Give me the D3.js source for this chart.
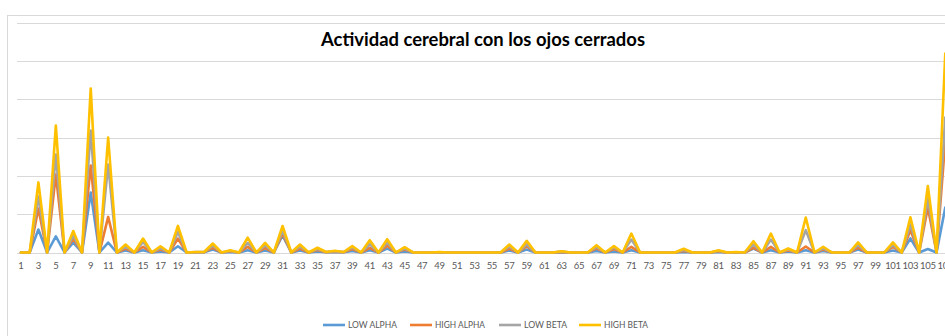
<!DOCTYPE html>
<html>
<head>
<meta charset="utf-8">
<script src="https://cdn.jsdelivr.net/npm/d3@7"></script>
<style>
  html, body { margin: 0; padding: 0; background: #fff; overflow: hidden; }
  svg { display: block; font-family: Lato, "Open Sans", sans-serif; }
</style>
</head>
<body>
<svg id="chart" width="945" height="336"></svg>
<script>
// Sample index 1..107
const categories = d3.range(1, 108);

// EEG band power per sample (plotted stacked)
const lowAlpha = {3:30000,5:20900,7:13000,9:78300,11:13000,13:2600,15:3000,17:1300,19:8200,21:260,22:260,23:3900,25:650,27:3000,29:2600,31:22200,33:2600,35:1300,36:260,37:520,38:260,39:2000,41:3000,43:5200,45:1300,49:130,57:2600,59:3900,63:400,67:2000,69:1300,71:3000,77:650,81:650,83:130,85:5200,87:3000,89:1300,91:3000,93:2000,97:3900,101:2600,103:18300,105:4600,107:58700};
const highAlpha = {3:27400,5:80900,7:5200,9:35200,11:33400,13:2600,15:4400,17:2600,19:10000,21:130,22:130,23:2600,25:650,27:4400,29:3300,31:2600,33:2600,35:2000,36:130,37:520,38:130,39:2600,41:3100,43:3500,45:2600,49:130,57:2600,59:4300,63:400,67:3300,69:3300,71:4400,77:1300,81:650,83:130,85:1300,87:4400,89:1300,91:4800,93:2000,97:2600,101:4600,103:10800,105:54100,107:87400};
const lowBeta = {3:15700,5:26100,7:3900,9:45700,11:68400,13:2600,15:6500,17:2000,19:8700,21:130,22:130,23:2600,25:650,27:5200,29:3300,31:3900,33:2600,35:1300,36:130,37:520,38:130,39:2000,41:4700,43:4300,45:1300,49:130,57:2600,59:2600,63:520,67:2000,69:2000,71:9500,77:1300,81:650,83:130,85:3900,87:9500,89:1300,91:21300,93:1300,97:3300,101:2600,103:7400,105:11700,107:30000};
const highBeta = {3:18300,5:37800,7:5900,9:54800,11:35200,13:2600,15:4300,17:2300,19:7800,21:130,22:130,23:2600,25:1000,27:6900,29:3500,31:5900,33:2600,35:1600,36:130,37:650,38:130,39:1700,41:5200,43:4300,45:1700,49:260,57:2600,59:4400,63:400,67:2300,69:1700,71:7800,77:1600,81:1000,83:260,85:4300,87:7800,89:1300,91:16600,93:2200,97:3300,101:3300,103:9500,105:16300,107:83500};

const seriesNames = ["LOW ALPHA", "HIGH ALPHA", "LOW BETA", "HIGH BETA"];
const seriesColors = ["#5B9BD5", "#ED7D31", "#A5A5A5", "#FFC000"];
const seriesData = [lowAlpha, highAlpha, lowBeta, highBeta];

const yTicks = [0, 50000, 100000, 150000, 200000, 250000, 300000];
const titleText = "Actividad cerebral con los ojos cerrados";

// Table of rows for d3.stack
const rows = categories.map(c => {
  const r = { cat: c };
  seriesNames.forEach((n, i) => { r[n] = seriesData[i][c] || 0; });
  return r;
});
const stacked = d3.stack().keys(seriesNames)(rows);

const svg = d3.select("#chart");
const W = 945, H = 336;

// chart frame
svg.append("rect")
  .attr("x", 7.5).attr("y", 15.5)
  .attr("width", 1000).attr("height", 400)
  .attr("fill", "#fff").attr("stroke", "#d9d9d9").attr("stroke-width", 1);

const step = 8.72;
const x = d3.scaleBand().domain(categories).range([16.6, 16.6 + step * categories.length]);
const cx = c => x(c) + x.bandwidth() / 2;
const y = d3.scaleLinear().domain([0, 300000]).range([252.5, 22.5]);

// gridlines
svg.append("g").selectAll("line").data(yTicks).join("line")
  .attr("x1", 17).attr("x2", W)
  .attr("y1", d => Math.round(y(d)) + 0.5).attr("y2", d => Math.round(y(d)) + 0.5)
  .attr("stroke", "#d9d9d9").attr("stroke-width", 1);

// category axis labels (every other sample)
const xAxis = d3.axisBottom(x)
  .tickValues(categories.filter(c => c % 2 === 1))
  .tickSize(0).tickPadding(0);
const gx = svg.append("g").attr("transform", `translate(0, ${y(0)})`).call(xAxis);
gx.select(".domain").remove();
gx.selectAll("text")
  .attr("y", 10).attr("dy", "0.71em")
  .attr("fill", "#595959").attr("font-size", "9.5px")
  .attr("font-family", "Lato, 'Open Sans', sans-serif")
  .attr("letter-spacing", "-0.3px");

// lines
const line = d3.line()
  .x(d => cx(d.data.cat))
  .y(d => y(d[1]));

svg.append("g").selectAll("path").data(stacked).join("path")
  .attr("d", line)
  .attr("fill", "none")
  .attr("stroke", (d, i) => seriesColors[i])
  .attr("stroke-width", 2.6)
  .attr("stroke-linejoin", "round")
  .attr("stroke-linecap", "round");

// title
svg.append("text")
  .attr("x", 483).attr("y", 46)
  .attr("text-anchor", "middle")
  .attr("font-size", "18px").attr("font-weight", "bold")
  .attr("fill", "#000")
  .attr("textLength", 324).attr("lengthAdjust", "spacingAndGlyphs")
  .text(titleText);

// legend
const legendX = [323, 410, 499, 579];
const legendW = [49, 50, 43, 44];
const lg = svg.append("g");
seriesNames.forEach((n, i) => {
  lg.append("line")
    .attr("x1", legendX[i]).attr("x2", legendX[i] + 22)
    .attr("y1", 325).attr("y2", 325)
    .attr("stroke", seriesColors[i]).attr("stroke-width", 2.6);
  lg.append("text")
    .attr("x", legendX[i] + 25).attr("y", 325).attr("dy", "0.35em")
    .attr("font-size", "9.5px").attr("fill", "#595959")
    .attr("textLength", legendW[i]).attr("lengthAdjust", "spacingAndGlyphs")
    .text(n);
});
</script>
</body>
</html>
